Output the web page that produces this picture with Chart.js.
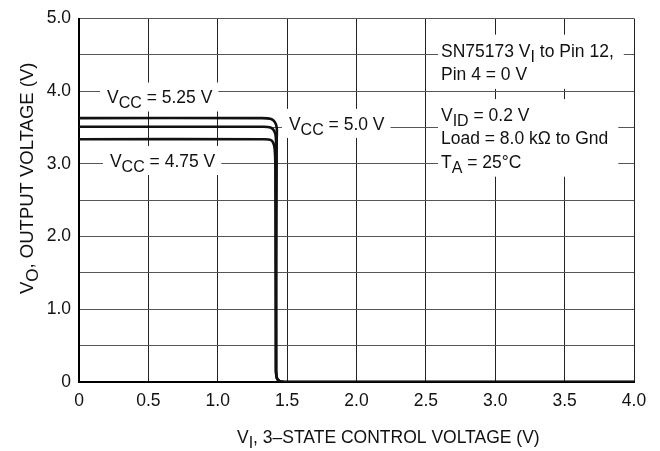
<!DOCTYPE html>
<html>
<head>
<meta charset="utf-8">
<script src="https://cdn.jsdelivr.net/npm/chart.js@4.4.1/dist/chart.umd.min.js"></script>
<style>
  body { margin: 0; background: #fff; }
  #wrap { width: 660px; height: 451px; }
</style>
</head>
<body>
<div id="wrap"><canvas id="voCanvas"></canvas></div>
<script>
// curves (VI in volts, VO in volts)
const vi525 = [0, 1.32, 1.38, 1.41, 1.425, 1.425, 1.42, 1.427, 1.447, 1.48, 4.0];
const vo525 = [3.63, 3.63, 3.62, 3.58, 3.50, 3.35, 0.15, 0.05, 0.01, 0, 0];
const vi500 = [0, 1.33, 1.38, 1.405, 1.418, 1.42, 1.42, 1.427, 1.447, 1.48, 4.0];
const vo500 = [3.51, 3.51, 3.50, 3.46, 3.38, 3.20, 0.15, 0.05, 0.01, 0, 0];
const vi475 = [0, 1.34, 1.38, 1.40, 1.41, 1.415, 1.42, 1.427, 1.447, 1.48, 4.0];
const vo475 = [3.34, 3.34, 3.33, 3.29, 3.21, 3.00, 0.15, 0.05, 0.01, 0, 0];

const xTitle = 'V_{I}, 3–STATE CONTROL VOLTAGE (V)';
const yTitle = 'V_{O}, OUTPUT VOLTAGE (V)';

// text notes, anchored in data units
const notes = [
    { x: 0.202, y: 3.831, lines: ['V_{CC} = 5.25 V'] },
    { x: 1.513, y: 3.468, lines: ['V_{CC} = 5.0 V'] },
    { x: 0.223, y: 2.957, lines: ['V_{CC} = 4.75 V'] },
    { x: 2.609, y: 4.476, lines: ['SN75173 V_{I} to Pin 12,', 'Pin 4 = 0 V'], wide: true },
    { x: 2.609, y: 3.589, lines: ['V_{ID} = 0.2 V', 'Load = 8.0 kΩ to Gnd', 'T_{A} = 25°C'], wide: true }
];

const FAMILY = '"Liberation Sans", Arial, sans-serif';
let mainFont = '17.5px ' + FAMILY;
let subFont = '16px ' + FAMILY;

function toPoints(xs, ys) {
    return xs.map((x, i) => ({ x: x, y: ys[i] }));
}

function splitSub(str) {
    const parts = [];
    const re = /_\{([^}]*)\}/g;
    let last = 0, m;
    while ((m = re.exec(str)) !== null) {
        if (m.index > last) parts.push([str.slice(last, m.index), false]);
        parts.push([m[1], true]);
        last = re.lastIndex;
    }
    if (last < str.length) parts.push([str.slice(last), false]);
    return parts;
}

function textWidth(ctx, str) {
    let w = 0;
    for (const [t, sub] of splitSub(str)) {
        ctx.font = sub ? subFont : mainFont;
        w += ctx.measureText(t).width;
    }
    return w;
}

function drawRich(ctx, str, x, y) {
    let cx = x;
    for (const [t, sub] of splitSub(str)) {
        ctx.font = sub ? subFont : mainFont;
        ctx.fillText(t, cx, y + (sub ? 5 : 0));
        cx += ctx.measureText(t).width;
    }
}

const notesPlugin = {
    id: 'notes',
    beforeDatasetsDraw(chart) {
        const ctx = chart.ctx;
        const sx = chart.scales.x, sy = chart.scales.y;
        ctx.save();
        ctx.textBaseline = 'alphabetic';
        notes.forEach(n => {
            const px = sx.getPixelForValue(n.x);
            const py = sy.getPixelForValue(n.y);
            const gap = 23.3;
            let w = 0;
            n.lines.forEach(l => { w = Math.max(w, textWidth(ctx, l)); });
            const padL = n.wide ? 3 : 7;
            const padR = n.wide ? 10 : 6;
            const top = py - (n.wide ? 22 : 21);
            const bottom = py + gap * (n.lines.length - 1) + (n.wide ? 9 : 8);
            ctx.fillStyle = '#fff';
            ctx.fillRect(px - padL, top, w + padL + padR, bottom - top);
            ctx.fillStyle = '#111';
            n.lines.forEach((l, i) => drawRich(ctx, l, px, py + i * gap));
        });
        ctx.restore();
    },
    afterDraw(chart) {
        const ctx = chart.ctx;
        ctx.save();
        ctx.fillStyle = '#111';
        ctx.textBaseline = 'alphabetic';
        drawRich(ctx, xTitle, 237, 443);
        mainFont = '18.5px ' + FAMILY;
        subFont = '17px ' + FAMILY;
        ctx.translate(33, 294);
        ctx.rotate(-Math.PI / 2);
        drawRich(ctx, yTitle, 0, 0);
        mainFont = '17.5px ' + FAMILY;
        subFont = '16px ' + FAMILY;
        ctx.restore();
    }
};

const lineStyle = {
    borderColor: '#111',
    borderWidth: 2.6,
    pointRadius: 0,
    tension: 0.3,
    fill: false
};

const voChart = new Chart(document.getElementById('voCanvas'), {
    type: 'line',
    data: {
        datasets: [
            Object.assign({ label: 'VCC = 5.25 V', data: toPoints(vi525, vo525) }, lineStyle),
            Object.assign({ label: 'VCC = 5.0 V', data: toPoints(vi500, vo500) }, lineStyle),
            Object.assign({ label: 'VCC = 4.75 V', data: toPoints(vi475, vo475) }, lineStyle)
        ]
    },
    options: {
        responsive: true,
        maintainAspectRatio: false,
        animation: false,
        layout: { padding: { top: 10, right: 26, left: 0, bottom: 0 } },
        plugins: {
            legend: { display: false },
            tooltip: { enabled: false }
        },
        scales: {
            x: {
                type: 'linear',
                min: 0,
                max: 4,
                afterFit: s => { s.height = 69; },
                ticks: {
                    stepSize: 0.5,
                    padding: 9,
                    color: '#111',
                    font: { family: FAMILY, size: 17.5 },
                    maxRotation: 0,
                    callback: v => v === 0 ? '0' : v.toFixed(1)
                },
                grid: { color: '#222', lineWidth: 1, drawTicks: false },
                border: { color: '#000', width: 2 }
            },
            y: {
                type: 'linear',
                min: 0,
                max: 5,
                afterFit: s => { s.width = 79; },
                ticks: {
                    stepSize: 0.5,
                    padding: 8,
                    color: '#111',
                    font: { family: FAMILY, size: 17.5 },
                    callback: v => Number.isInteger(v) ? (v === 0 ? '0' : v.toFixed(1)) : ''
                },
                grid: { color: '#555', lineWidth: 1, drawTicks: false },
                border: { color: '#000', width: 2 }
            }
        }
    },
    plugins: [notesPlugin]
});
</script>
</body>
</html>
